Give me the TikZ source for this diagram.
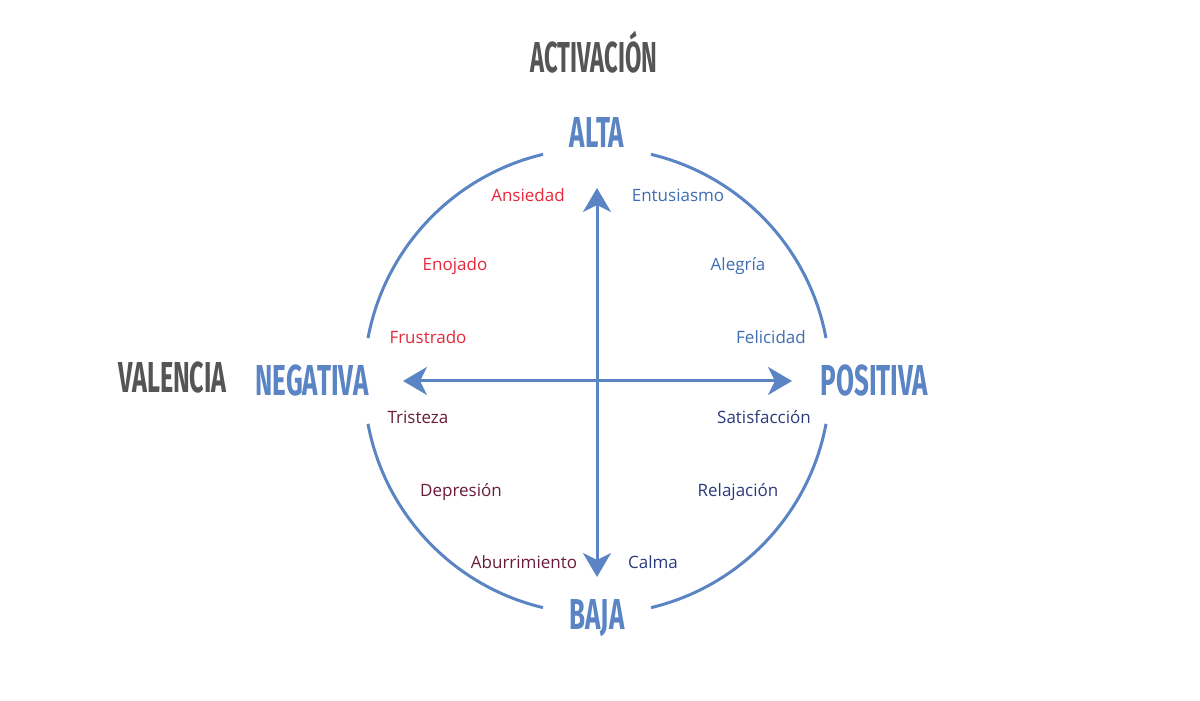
\documentclass[tikz,border=0pt]{standalone}
\usepackage{fontspec}
\setmainfont{Open Sans}
\newfontfamily\headfont{Fira Sans}
\usetikzlibrary{arrows.meta}
\definecolor{hblue}{HTML}{5B84C4}
\definecolor{hgray}{HTML}{555555}
\definecolor{tred}{HTML}{E5283C}
\definecolor{tblue}{HTML}{3E6DB5}
\definecolor{tmaroon}{HTML}{6A1B3A}
\definecolor{tnavy}{HTML}{2B3A7C}
\newcommand\hd[2][0.62]{\scalebox{#1}[1.03]{#2}}
\tikzset{
  head/.style={anchor=base, inner sep=0pt, font=\headfont\bfseries\fontsize{42}{42}\selectfont},
  bluehead/.style={head, text=hblue},
  grayhead/.style={head, text=hgray},
  emo/.style={anchor=base, inner sep=0pt, font=\fontsize{17}{17}\selectfont},
  ring/.style={draw=hblue, line width=3pt},
  axis/.style={draw=hblue, line width=3pt, {Stealth[length=24pt,width=28pt,inset=7pt]}-{Stealth[length=24pt,width=28pt,inset=7pt]}}
}
\begin{document}
\begin{tikzpicture}[x=1pt,y=1pt]
\useasboundingbox (0,0) rectangle (1200,701);
\coordinate (c) at (597,320);
% ring arcs
\draw[ring] ([shift={(10.6:233)}]c) arc[start angle=10.6, end angle=76.6, radius=233];
\draw[ring] ([shift={(103.4:233)}]c) arc[start angle=103.4, end angle=169.4, radius=233];
\draw[ring] ([shift={(190.6:233)}]c) arc[start angle=190.6, end angle=256.6, radius=233];
\draw[ring] ([shift={(283.4:233)}]c) arc[start angle=283.4, end angle=349.4, radius=233];
% axes
\coordinate (vtop) at (597,513);
\coordinate (vbot) at (597,124);
\coordinate (hleft) at (403,320);
\coordinate (hright) at (792,320);
\draw[axis] (vbot) -- (vtop);
\draw[axis] (hleft) -- (hright);
% headings
\node[grayhead] (activ) at (594,628) {\hd[0.565]{ACTIVACIÓN}};
\node[grayhead] (valen) at (172.5,308) {\hd[0.6]{VALENCIA}};
\node[bluehead] (alta) at (597,553) {\hd{ALTA}};
\node[bluehead] (baja) at (597,71) {\hd{BAJA}};
\node[bluehead] (neg) at (312,305) {\hd{NEGATIVA}};
\node[bluehead] (pos) at (874.5,305) {\hd{POSITIVA}};
% emotions
\node[emo, text=tred] (ansiedad) at (528,499) {Ansiedad};
\node[emo, text=tred] (enojado) at (455,430) {Enojado};
\node[emo, text=tred] (frustrado) at (428,357) {Frustrado};
\node[emo, text=tblue] (entusiasmo) at (678,499) {Entusiasmo};
\node[emo, text=tblue] (alegria) at (738,430) {Alegría};
\node[emo, text=tblue] (felicidad) at (771,357) {Felicidad};
\node[emo, text=tmaroon] (tristeza) at (418,277) {Tristeza};
\node[emo, text=tmaroon] (depresion) at (461,204) {Depresión};
\node[emo, text=tmaroon] (aburrimiento) at (524,132) {Aburrimiento};
\node[emo, text=tnavy] (satisfaccion) at (764,277) {Satisfacción};
\node[emo, text=tnavy] (relajacion) at (738,204) {Relajación};
\node[emo, text=tnavy] (calma) at (653,132) {Calma};
\end{tikzpicture}
\end{document}
